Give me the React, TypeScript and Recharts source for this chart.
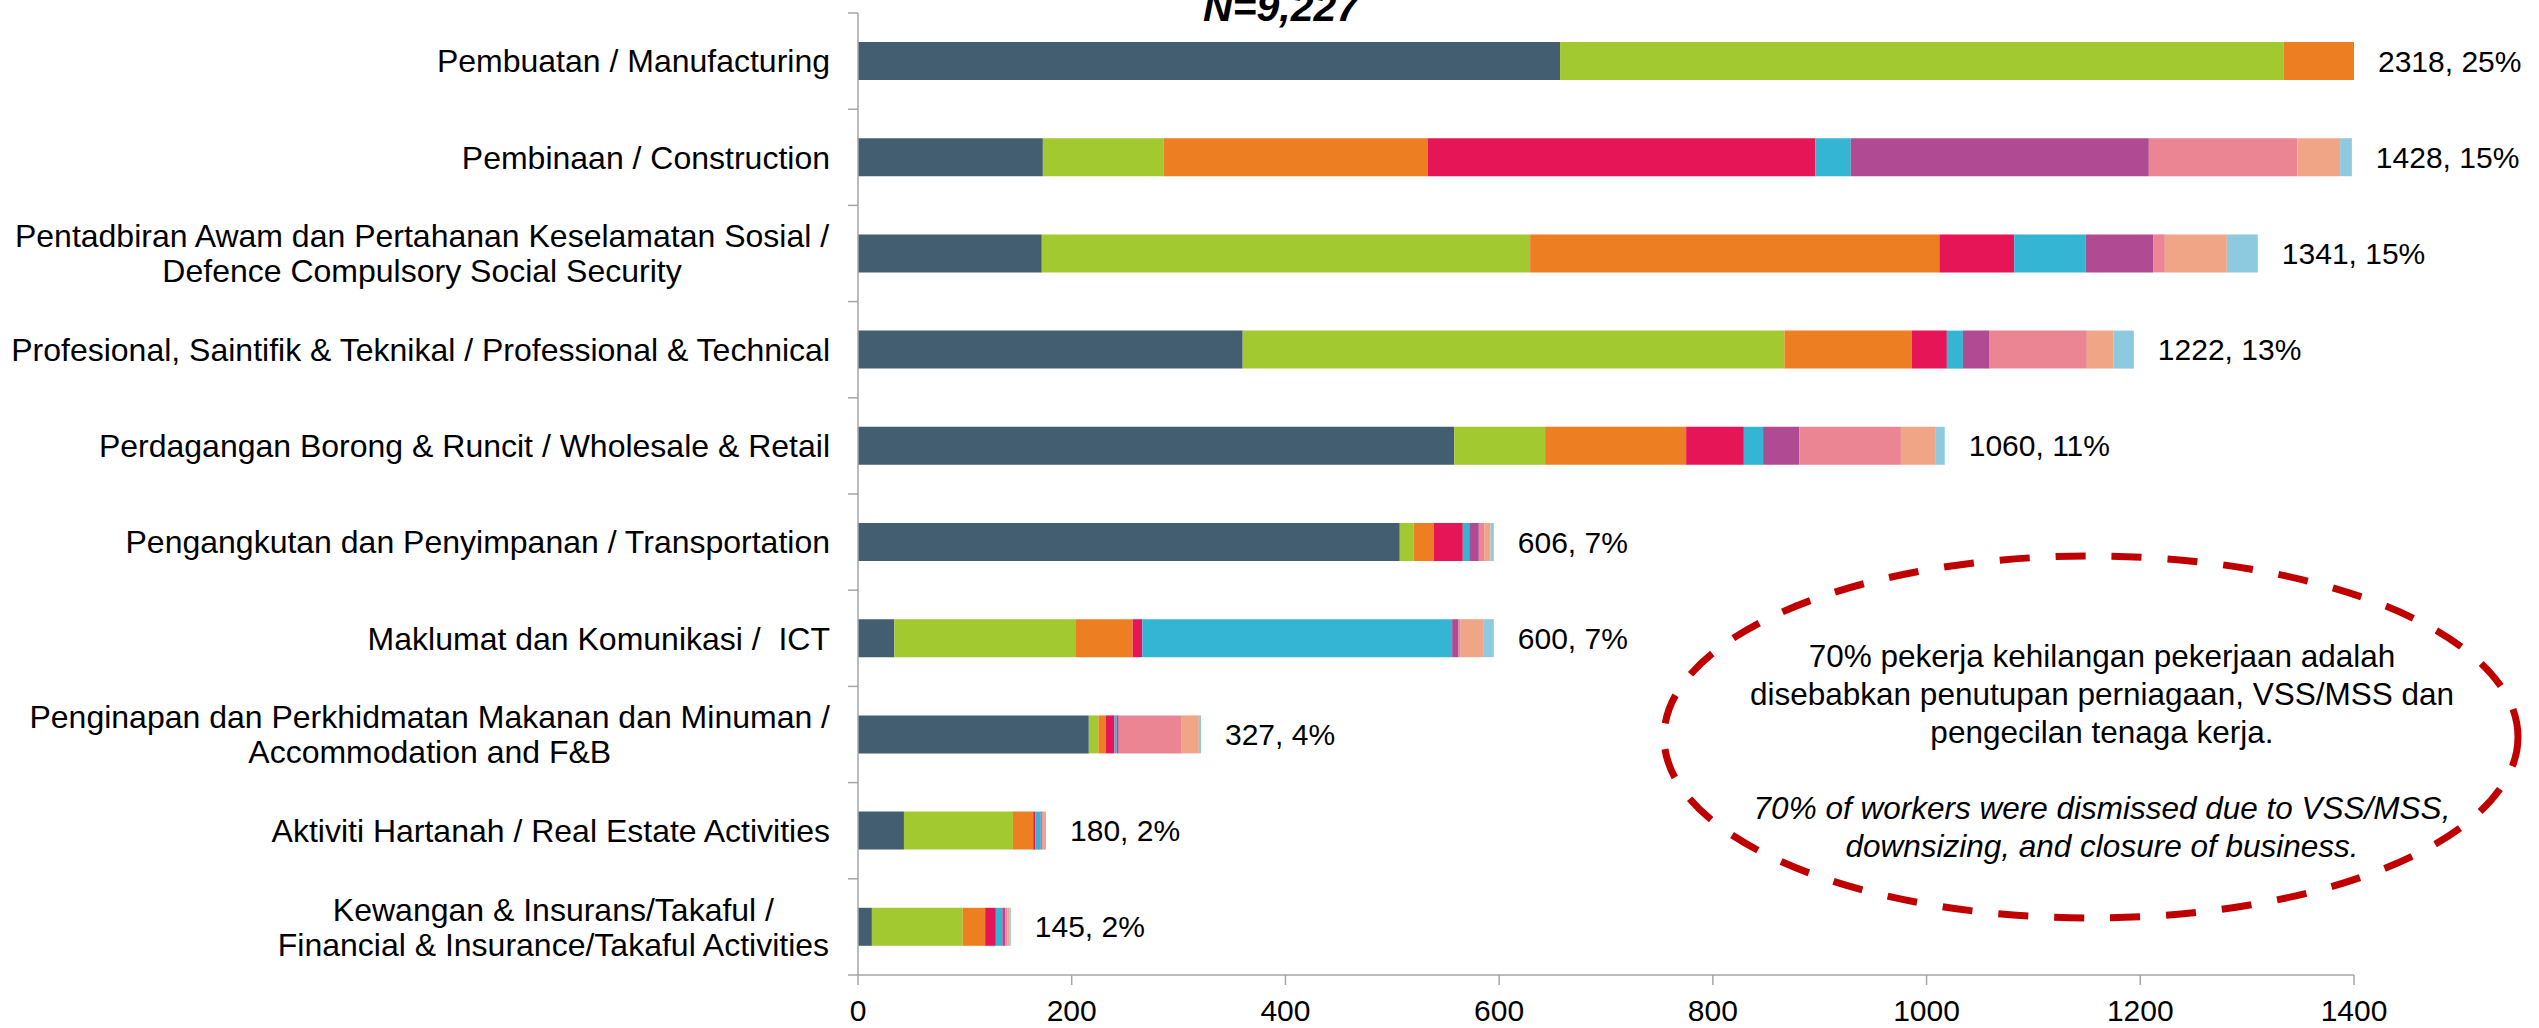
import React from 'react';
import { Bar, BarChart, LabelList, XAxis, YAxis } from 'recharts';

const W = 2539;
const H = 1028;
const MARGIN = { top: 13, right: 185, left: 0, bottom: 0 };
const Y_AXIS_W = 858;
const X_AXIS_H = 53;
const PLOT_RIGHT = W - MARGIN.right;
const FONT = '"Liberation Sans", Arial, Helvetica, sans-serif';
const AXIS_GREY = '#A6A6A6';
const CAT_FONT = 32;
const FONT_SIZE = 30;

// sector labels, one entry per wrapped line
const sectors = [
  ['Pembuatan / Manufacturing'],
  ['Pembinaan / Construction'],
  ['Pentadbiran Awam dan Pertahanan Keselamatan Sosial /', 'Defence Compulsory Social Security'],
  ['Profesional, Saintifik & Teknikal / Professional & Technical'],
  ['Perdagangan Borong & Runcit / Wholesale & Retail'],
  ['Pengangkutan dan Penyimpanan / Transportation'],
  ['Maklumat dan Komunikasi /  ICT'],
  ['Penginapan dan Perkhidmatan Makanan dan Minuman /', 'Accommodation and F&B'],
  ['Aktiviti Hartanah / Real Estate Activities'],
  ['Kewangan & Insurans/Takaful /', 'Financial & Insurance/Takaful Activities'],
];

// stacked segments (manufacturing runs past the axis end)
const slate = [657, 173, 172, 360, 558, 507, 34, 216, 43, 13];
const lime = [677, 113, 457, 507, 85, 13, 170, 9, 102, 85];
const orange = [420, 247, 383, 119, 132, 19, 53, 7, 19, 21];
const crimson = [250, 363, 70, 33, 54, 27, 9, 8, 2, 10];
const cyan = [40, 33, 67, 15, 18, 6, 290, 2, 5, 6];
const purple = [90, 279, 63, 25, 34, 9, 6, 2, 1, 3];
const rose = [120, 139, 11, 91, 95, 5, 2, 59, 1, 2];
const salmon = [45, 40, 58, 25, 32, 6, 21, 16, 2, 2];
const sky = [19, 11, 29, 19, 9, 3, 10, 2, 1, 1];

const totals = [2318, 1428, 1341, 1222, 1060, 606, 600, 327, 180, 145];
const shares = [25, 15, 15, 13, 11, 7, 7, 4, 2, 2];

const xTicks = [0, 200, 400, 600, 800, 1000, 1200, 1400];

const series = [
  { key: 'slate', values: slate, color: '#445E71' },
  { key: 'lime', values: lime, color: '#A2C930' },
  { key: 'orange', values: orange, color: '#EE7E22' },
  { key: 'crimson', values: crimson, color: '#E61558' },
  { key: 'cyan', values: cyan, color: '#35B5D4' },
  { key: 'purple', values: purple, color: '#B04B93' },
  { key: 'rose', values: rose, color: '#EB8594' },
  { key: 'salmon', values: salmon, color: '#F0A587' },
  { key: 'sky', values: sky, color: '#8ECADF' },
];

const names = sectors.map((lines) => lines.join(' '));

const data = sectors.map((_, i) => {
  const row: Record<string, number | string> = { name: names[i] };
  series.forEach((s) => {
    row[s.key] = s.values[i];
  });
  return row;
});

const rowSum = (i: number) => series.reduce((acc, s) => acc + s.values[i], 0);

let measureCtx: CanvasRenderingContext2D | null = null;
function textWidth(s: string) {
  if (!measureCtx) {
    measureCtx = document.createElement('canvas').getContext('2d');
  }
  if (!measureCtx) return s.length * CAT_FONT * 0.5;
  measureCtx.font = `${CAT_FONT}px "Liberation Sans"`;
  return measureCtx.measureText(s).width;
}

function SectorTick(props: any) {
  const { y, payload } = props;
  const idx = names.indexOf(String(payload.value));
  const lines = idx >= 0 ? sectors[idx] : [String(payload.value)];
  const half = payload?.offset > 0 ? payload.offset : (H - MARGIN.top - X_AXIS_H) / sectors.length / 2;
  const right = Y_AXIS_W - 28;
  const blockW = Math.max(...lines.map(textWidth));
  const cx = right - blockW / 2;
  const lineH = 35;
  const firstY = y - ((lines.length - 1) * lineH) / 2;
  return (
    <g>
      <line x1={Y_AXIS_W - 10} x2={Y_AXIS_W} y1={y - half} y2={y - half} stroke={AXIS_GREY} strokeWidth={1.5} />
      {idx === sectors.length - 1 && (
        <line x1={Y_AXIS_W - 10} x2={Y_AXIS_W} y1={y + half} y2={y + half} stroke={AXIS_GREY} strokeWidth={1.5} />
      )}
      {lines.map((ln, k) => (
        <text
          key={k}
          x={lines.length > 1 ? cx : right}
          y={firstY + k * lineH}
          dy="0.35em"
          textAnchor={lines.length > 1 ? 'middle' : 'end'}
          fontSize={CAT_FONT}
          fill="#000"
          style={{ whiteSpace: 'pre' }}
        >
          {ln}
        </text>
      ))}
    </g>
  );
}

// placed on the first segment: its rect gives the scale, the row sum gives the bar end
function TotalLabel(props: any) {
  const { x, y, width, height, value } = props;
  const i = names.indexOf(String(value));
  if (i < 0) return null;
  const perUnit = width / slate[i];
  const end = Math.min(x + perUnit * rowSum(i), PLOT_RIGHT);
  return (
    <text x={end + 24} y={y + height / 2} dy="0.35em" fontSize={FONT_SIZE} fill="#000">
      {`${totals[i]}, ${shares[i]}%`}
    </text>
  );
}

export default function App() {
  return (
    <div style={{ position: 'absolute', left: 0, top: 0, width: W, height: H, fontFamily: FONT, background: '#fff' }}>
      <BarChart width={W} height={H} data={data} layout="vertical" margin={MARGIN} barSize={38}>
        <XAxis
          type="number"
          domain={[0, 1400]}
          ticks={xTicks}
          allowDataOverflow
          height={X_AXIS_H}
          stroke={AXIS_GREY}
          axisLine={{ stroke: AXIS_GREY, strokeWidth: 1.5 }}
          tickLine={{ stroke: AXIS_GREY, strokeWidth: 1.5 }}
          tickSize={10}
          tickMargin={15}
          tick={{ fontSize: FONT_SIZE, fill: '#000' }}
        />
        <YAxis
          type="category"
          dataKey="name"
          width={Y_AXIS_W}
          interval={0}
          axisLine={{ stroke: AXIS_GREY, strokeWidth: 1.5 }}
          tickLine={false}
          tick={<SectorTick />}
        />
        {series.map((s, i) => (
          <Bar key={s.key} dataKey={s.key} stackId="a" fill={s.color} isAnimationActive={false}>
            {i === 0 && <LabelList dataKey="name" content={<TotalLabel />} />}
          </Bar>
        ))}
      </BarChart>
      <svg
        width={W}
        height={H}
        style={{ position: 'absolute', left: 0, top: 0, pointerEvents: 'none' }}
      >
        <text x={1281} y={21} textAnchor="middle" fontSize={41} fontWeight="bold" fontStyle="italic" fill="#000">
          N=9,227
        </text>
        <ellipse cx={2091} cy={737} rx={427} ry={181} fill="none" stroke="#C00000" strokeWidth={7} strokeDasharray="30 26" />
        <g fontSize={31.5} fill="#000" textAnchor="middle">
          <text x={2102} y={667}>70% pekerja kehilangan pekerjaan adalah</text>
          <text x={2102} y={705}>disebabkan penutupan perniagaan, VSS/MSS dan</text>
          <text x={2102} y={743}>pengecilan tenaga kerja.</text>
          <text x={2102} y={819} fontStyle="italic">70% of workers were dismissed due to VSS/MSS,</text>
          <text x={2102} y={857} fontStyle="italic">downsizing, and closure of business.</text>
        </g>
      </svg>
    </div>
  );
}
